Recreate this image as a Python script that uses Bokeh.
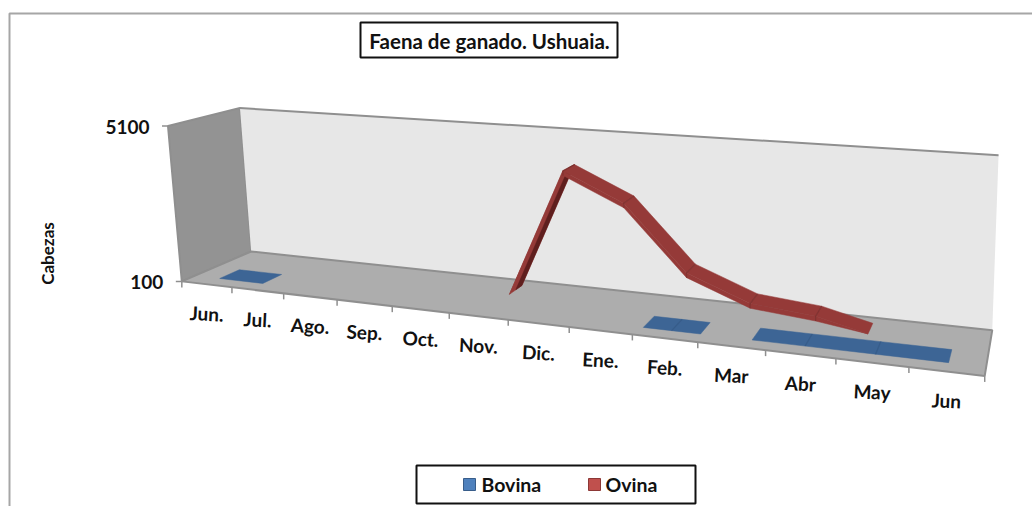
import numpy as np
from bokeh.plotting import figure
from bokeh.models import Range1d
from bokeh.core.properties import value
from bokeh.embed import file_html
from bokeh.resources import INLINE

# ---- data ----
categories = ["Jun.", "Jul.", "Ago.", "Sep.", "Oct.", "Nov.", "Dic.", "Ene.", "Feb.", "Mar", "Abr", "May", "Jun"]
bovina = [130, 95, 0, 0, 0, 0, 0, 0, 180, 0, 450, 300, 300]
ovina = [0, 0, 0, 0, 0, 100, 4100, 3270, 1340, 620, 450, 0, 0]
axis_min = 100
axis_max = 5100
axis_ticks = ["100", "5100"]
y_title = "Cabezas"
title = "Faena de ganado. Ushuaia."
series_names = ["Bovina", "Ovina"]

# ---- 3D projection calibrated on the box corners (u along categories, d depth, z height) ----
world = [(0, 0, 0), (1, 0, 0), (0, 1, 0), (1, 1, 0), (0, 0, 1), (0, 1, 1), (1, 1, 1)]
screen = [(182, 281), (984, 376), (250, 251), (992, 329), (167, 125), (240, 108), (998, 155)]
A = []
for (X, Y, Z), (sx, sy) in zip(world, screen):
    A.append([X, Y, Z, 1, 0, 0, 0, 0, -sx * X, -sx * Y, -sx * Z, -sx])
    A.append([0, 0, 0, 0, X, Y, Z, 1, -sy * X, -sy * Y, -sy * Z, -sy])
P = np.linalg.svd(np.array(A, float))[2][-1].reshape(3, 4)


def proj(i, d, z):
    h = P @ np.array([i / len(categories), d, z, 1.0])
    return float(h[0] / h[2]), float(h[1] / h[2])


def poly(pts):
    xy = [proj(*q) for q in pts]
    return [a for a, _ in xy], [b for _, b in xy]


def zval(v):
    return (v - axis_min) / (axis_max - axis_min)


def clipped_segments(vals):
    out = []
    for k in range(len(vals) - 1):
        a, b = vals[k], vals[k + 1]
        if not (a > axis_min or b > axis_min):
            continue
        u0, u1, va, vb = k + 0.5, k + 1.5, a, b
        if a < axis_min:
            f = (axis_min - a) / (b - a)
            u0, va = u0 + f, axis_min
        if b < axis_min:
            f = (a - axis_min) / (a - b)
            u1, vb = u0 + f, axis_min
        out.append((u0, u1, va, vb))
    return out


p = figure(width=1032, height=506, x_range=Range1d(0, 1032), y_range=Range1d(506, 0),
           output_backend="svg", toolbar_location=None, min_border=0)
p.axis.visible = False
p.grid.visible = False
p.outline_line_color = None
p.background_fill_color = "white"

FONT = value("Lato")
EDGE = "#8f8f8f"
INK = "#111111"

# outer chart frame
p.line([9, 9, 1032], [506, 13, 13], line_color="#a6a6a6", line_width=2)

# walls and floor
x, y = poly([(0, 0, 0), (0, 1, 0), (0, 1, 1), (0, 0, 1)])
p.patch(x, y, fill_color="#939393", line_color=EDGE, line_width=2)
x, y = poly([(0, 1, 0), (13, 1, 0), (13, 1, 1), (0, 1, 1)])
p.patch(x, y, fill_color="#e7e7e7", line_color=None)
x, y = poly([(0, 1, 1), (13, 1, 1), (13, 1, 0)])
p.line(x[:2], y[:2], line_color=EDGE, line_width=2)
x, y = poly([(0, 0, 0), (13, 0, 0), (13, 1, 0), (0, 1, 0)])
p.patch(x, y, fill_color="#adadad", line_color=EDGE, line_width=2)

# category ticks and labels
for i in range(len(categories) + 1):
    tx, ty = proj(i, 0, 0)
    p.line([tx, tx], [ty, ty + 6], line_color=EDGE, line_width=1.5)
lab = [proj(i + 0.5, 0, 0) for i in range(len(categories))]
p.text([a for a, _ in lab], [b + 29 for _, b in lab], text=categories, text_font=FONT,
       text_font_style="bold", text_font_size="19px", text_align="center",
       text_baseline="middle", text_color=INK, angle=-0.05)

# value ticks and labels
for z, t in zip((0, 1), axis_ticks):
    tx, ty = proj(0, 0, z)
    p.line([tx - 6, tx], [ty, ty], line_color=EDGE, line_width=1.5)
    p.text([tx - 18.5], [ty + 1], text=[t], text_font=FONT, text_font_style="bold",
           text_font_size="19px", text_align="right", text_baseline="middle", text_color=INK)
p.text([47], [253], text=[y_title], text_font=FONT, text_font_style="bold", text_font_size="17px",
       text_align="center", text_baseline="middle", text_color=INK, angle=np.pi / 2)


def ribbon(vals, d0, d1, top, dark, joint, flat=False, thick=0.0):
    xs, ys, cs = [], [], []
    jx, jy = [], []
    segs = clipped_segments(vals)
    for s, (u0, u1, va, vb) in enumerate(segs):
        za, zb = (0, 0) if flat else (zval(va), zval(vb))
        if thick:
            ta, tb = max(za - thick, 0), max(zb - thick, 0)
            x, y = poly([(u0, d0, za), (u1, d0, zb), (u1, d0, tb), (u0, d0, ta)])
            xs.append(x); ys.append(y); cs.append(top)
        x, y = poly([(u0, d0, za), (u1, d0, zb), (u1, d1, zb), (u0, d1, za)])
        xs.append(x); ys.append(y); cs.append(top)
        if zb - za > 0.2:
            dm = d0 + (d1 - d0) * 0.5
            x, y = poly([(u0, dm, za), (u1, dm, zb), (u1, d1, zb), (u0, d1, za)])
            xs.append(x); ys.append(y); cs.append(dark)
        if s and abs(segs[s - 1][1] - u0) < 1e-6:
            x, y = poly([(u0, d0, max(za - thick, 0)), (u0, d0, za), (u0, d1, za)])
            jx.append(x); jy.append(y)
    p.patches(xs, ys, fill_color=cs, line_color=cs, line_width=0.5)
    p.multi_line(jx, jy, line_color=joint, line_width=1.2, line_alpha=0.6)


ribbon(bovina, 0.18, 0.46, "#3d6595", "#2c4d74", "#2f5480", flat=True)
ribbon(ovina, 0.60, 0.86, "#953a38", "#5f1f1e", "#732b29", thick=0.028)

# title box
p.quad(left=[360], right=[617], top=[22], bottom=[57], fill_color="white", line_color=INK, line_width=2)
p.text([489], [40], text=[title], text_font=FONT, text_font_style="bold", text_font_size="20.5px",
       text_align="center", text_baseline="middle", text_color=INK)

# legend
p.quad(left=[416], right=[695], top=[465], bottom=[503], fill_color="white", line_color=INK, line_width=2)
p.quad(left=[463, 588], right=[475, 600], top=[478, 478], bottom=[490, 490],
       fill_color=["#4f81bd", "#c0504d"], line_color=["#385d8a", "#8c3836"], line_width=1)
p.text([481, 605], [484, 484], text=series_names, text_font=FONT, text_font_style="bold",
       text_font_size="19.5px", text_align="left", text_baseline="middle", text_color=INK)

open("out.html", "w").write(file_html(p, INLINE))
